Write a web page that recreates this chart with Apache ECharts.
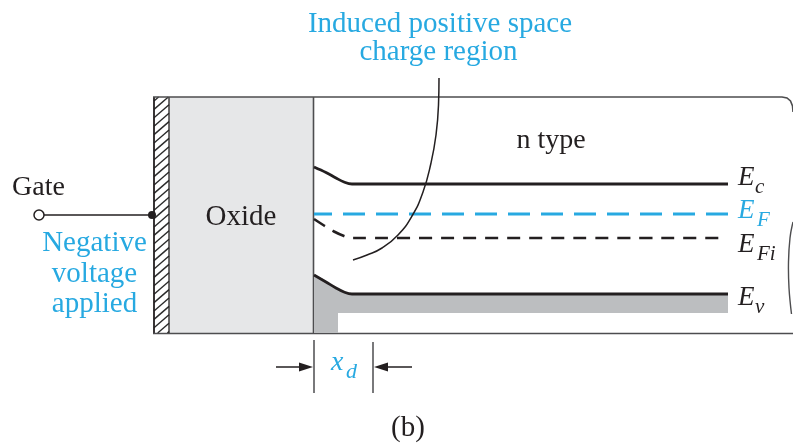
<!DOCTYPE html>
<html><head><meta charset="utf-8">
<script src="https://cdn.jsdelivr.net/npm/echarts@6/dist/echarts.min.js"></script>
<style>html,body{margin:0;padding:0;background:#fff}#c{width:793px;height:448px}</style>
</head><body><div id="c"></div>
<script>
// ---- diagram data (energy band levels, in drawing units) ----
const ecBand = [[314,167],[326,172.5],[336,178],[344,182],[352,184],[728,184]];
const efLevel = [[314,214],[728,214]];
const efiBand = [[314,219],[324,225.5],[334,231.5],[344,236],[352,238],[723,238]];
const evBand = [[314,275],[326,282],[336,288],[344,292],[352,294],[728,294]];
const shadeRest = [[728,313],[338,313],[338,333],[314,333]];
const pointerCurve = [[439,78],[438.5,105],[436,135],[431,163],[423,192],[412,216],[398,235],[382,248],[367,255],[353,260]];
const bandLabels = [
  {main:'E', sub:'c',  base:185, color:'ink'},
  {main:'E', sub:'F',  base:218, color:'cyan'},
  {main:'E', sub:'Fi', base:252, color:'ink'},
  {main:'E', sub:'v',  base:305, color:'ink'}
];
const titleLines = ['Induced positive space','charge region'];
const biasLines = ['Negative','voltage','applied'];

// ---- styles ----
const CYAN = '#27a9e1', INK = '#231f20', OXIDE = '#e6e7e8', SHADE = '#bcbec0', EDGE = '#4d4d4f';
const FAMILY = "'Liberation Serif', 'DejaVu Serif', serif";

const chart = echarts.init(document.getElementById('c'), null, {renderer:'canvas'});

function seg(c, p, q, style){
  const a = c(p), b = c(q);
  return {type:'line', shape:{x1:a[0],y1:a[1],x2:b[0],y2:b[1]}, style:Object.assign({stroke:INK,lineWidth:1.5},style)};
}
// p = [x, baseline]; text placed with its baseline near p[1]
function txt(c, p, text, size, fill, opts){
  const a = c([p[0], p[1] - 0.25*size]);
  const o = opts || {};
  const italic = o.italic ? 'italic ' : '';
  return {type:'text', style:{x:a[0], y:a[1], text:text, font:italic + size + 'px ' + FAMILY, fill:fill, align:o.align || 'center', verticalAlign:'middle'}};
}

function renderFrame(params, api){
  const c = p => api.coord(p);
  const ch = [];
  const o0 = c([169,97]), o1 = c([313,333]);
  ch.push({type:'rect', shape:{x:o0[0],y:o0[1],width:o1[0]-o0[0],height:o1[1]-o0[1]}, style:{fill:OXIDE}});
  const hx0 = 154, hx1 = 169, top = 97, bot = 333, dy = 13;
  for (let y = top + 4; y < bot + dy; y += 8.4){
    let p = [hx0, y], q = [hx1, y - dy];
    if (p[1] > bot){ const t = (p[1]-bot)/dy; p = [hx0 + t*(hx1-hx0), bot]; }
    if (q[1] < top){ const t = (top-q[1])/dy; q = [hx1 - t*(hx1-hx0), top]; }
    if (p[1] - q[1] > 0.5) ch.push(seg(c, p, q, {lineWidth:1.4, stroke:'#2b2b2b'}));
  }
  ch.push(seg(c,[154,97],[154,333],{lineWidth:1.8}));
  ch.push(seg(c,[169,97],[169,333],{lineWidth:1.3}));
  ch.push(seg(c,[313.5,97],[313.5,333],{lineWidth:1.6, stroke:EDGE}));
  const tb = [[153,97],[782,97],[787,98],[790.5,101],[792.5,106],[793,112]].map(c);
  ch.push({type:'polyline', shape:{points:tb}, style:{stroke:EDGE, lineWidth:1.6, fill:null}});
  ch.push(seg(c,[153,333.5],[793,333.5],{lineWidth:1.6, stroke:EDGE}));
  const br = [[793,222],[790,238],[788.5,262],[789,288],[791.5,314]].map(c);
  ch.push({type:'polyline', shape:{points:br, smooth:0.4}, style:{stroke:EDGE, lineWidth:1.4, fill:null}});
  ch.push(seg(c,[44,215],[152,215],{lineWidth:1.5}));
  const g = c([39,215]);
  ch.push({type:'circle', shape:{cx:g[0],cy:g[1],r:5}, style:{fill:'#fff', stroke:INK, lineWidth:1.5}});
  const d = c([152,215]);
  ch.push({type:'circle', shape:{cx:d[0],cy:d[1],r:4}, style:{fill:INK}});
  ch.push(seg(c,[314,340],[314,393],{lineWidth:1.5, stroke:EDGE}));
  ch.push(seg(c,[373,342],[373,393],{lineWidth:1.5, stroke:EDGE}));
  ch.push(seg(c,[276,367],[302,367],{lineWidth:1.5}));
  ch.push(seg(c,[385,367],[412,367],{lineWidth:1.5}));
  const ah1 = [[313,367],[299,362.5],[299,371.5]].map(c);
  const ah2 = [[374,367],[388,362.5],[388,371.5]].map(c);
  ch.push({type:'polygon', shape:{points:ah1}, style:{fill:INK}});
  ch.push({type:'polygon', shape:{points:ah2}, style:{fill:INK}});
  return {type:'group', children:ch};
}

function renderShade(params, api){
  const pts = evBand.concat(shadeRest).map(p => api.coord(p));
  return {type:'polygon', shape:{points:pts}, style:{fill:SHADE}};
}

function renderTexts(params, api){
  const c = p => api.coord(p);
  const ch = [];
  ch.push(txt(c,[440,32], titleLines[0], 29, CYAN));
  ch.push(txt(c,[438.5,60], titleLines[1], 29, CYAN));
  ch.push(txt(c,[551,148], 'n type', 28, INK));
  ch.push(txt(c,[38.5,195], 'Gate', 28, INK));
  ch.push(txt(c,[94.5,251], biasLines[0], 29, CYAN));
  ch.push(txt(c,[94.5,282], biasLines[1], 29, CYAN));
  ch.push(txt(c,[94.5,312], biasLines[2], 29, CYAN));
  ch.push(txt(c,[241,225], 'Oxide', 29, INK));
  ch.push(txt(c,[408,436], '(b)', 29, INK));
  const cols = {ink:INK, cyan:CYAN};
  bandLabels.forEach(b => {
    const col = cols[b.color];
    ch.push(txt(c,[738, b.base], b.main, 27, col, {align:'left', italic:true}));
    const subX = (b.sub === 'c' || b.sub === 'v') ? 755 : 757;
    ch.push(txt(c,[subX, b.base + 7.5], b.sub, 21, col, {align:'left', italic:true}));
  });
  ch.push(txt(c,[331,370], 'x', 28, CYAN, {align:'left', italic:true}));
  ch.push(txt(c,[346,378], 'd', 22, CYAN, {align:'left', italic:true}));
  return {type:'group', children:ch};
}

const lineBase = {type:'line', showSymbol:false, symbol:'none', silent:true, animation:false, z:5};

chart.setOption({
  animation:false,
  grid:{left:0,right:0,top:0,bottom:0},
  xAxis:{type:'value', min:0, max:793, show:false},
  yAxis:{type:'value', min:0, max:448, inverse:true, show:false},
  series:[
    {type:'custom', renderItem:renderFrame, data:[0], silent:true, z:1},
    {type:'custom', renderItem:renderShade, data:[0], silent:true, z:2},
    Object.assign({}, lineBase, {name:'Ec', data:ecBand, smooth:0.35, lineStyle:{color:INK, width:2.8}}),
    Object.assign({}, lineBase, {name:'EF', data:efLevel, lineStyle:{color:CYAN, width:3, type:[22,11], dashOffset:4}}),
    Object.assign({}, lineBase, {name:'EFi', data:efiBand, smooth:0.35, lineStyle:{color:INK, width:2.6, type:[13,9]}}),
    Object.assign({}, lineBase, {name:'Ev', data:evBand, smooth:0.35, lineStyle:{color:INK, width:2.8}}),
    Object.assign({}, lineBase, {name:'pointer', data:pointerCurve, smooth:0.5, lineStyle:{color:INK, width:1.5}, z:6}),
    {type:'custom', renderItem:renderTexts, data:[0], silent:true, z:10}
  ]
});
</script></body></html>
